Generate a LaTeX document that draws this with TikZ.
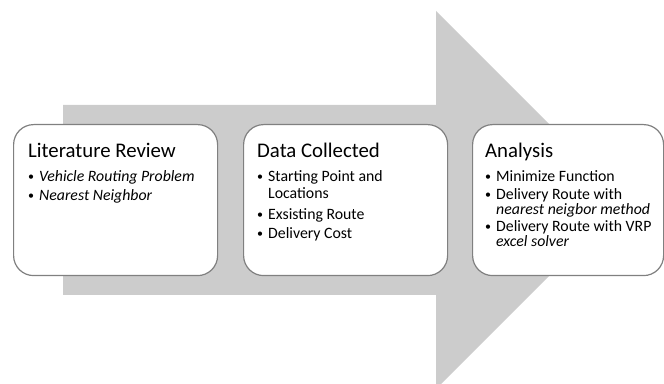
\documentclass[tikz,border=0pt]{standalone}
\usepackage{fontspec}
\setmainfont{Carlito}
\usetikzlibrary{positioning}

\newcommand{\bitem}[1]{\makebox[11pt][l]{\raisebox{1pt}{\fontsize{12}{12}\selectfont\textbullet}}#1}
\newcommand{\bcont}[1]{\hspace*{11pt}#1}
\newcommand{\stagetitle}[1]{{\fontsize{20.8}{23}\selectfont #1}}

\tikzset{
  stagebox/.style={draw=gray, line width=1.2pt, rounded corners=20pt, fill=white,
    minimum height=151pt, inner sep=0pt},
  stagetext/.style={align=left, anchor=north west, inner sep=0pt,
    font=\fontsize{15.8}{17.5}\selectfont}
}

\begin{document}
\begin{tikzpicture}[x=1pt,y=1pt,line join=miter]
  \useasboundingbox (0,0) rectangle (664,383);
  % big grey arrow behind the stages
  \fill[gray!40] (63,278) -- (436,278) -- (436,372) -- (625,183)
    -- (436,-6) -- (436,88) -- (63,88) -- cycle;
  % the three stages
  \node[stagebox, minimum width=204pt, anchor=north west] (lit) at (13,259) {};
  \node[stagebox, minimum width=204pt, anchor=north west] (data) at (243,259) {};
  \node[stagebox, minimum width=191pt, anchor=north west] (anl) at (472,259) {};
  \node[stagetext, below right=19pt and 15pt of lit.north west] (litText)
    {\stagetitle{Literature Review}\\[6pt]
     \bitem{\itshape Vehicle Routing Problem}\\[2pt]
     \bitem{\itshape Nearest Neighbor}};
  \node[stagetext, below right=19pt and 14pt of data.north west] (dataText)
    {\stagetitle{Data Collected}\\[6pt]
     \bitem{Starting Point and}\\
     \bcont{Locations}\\[3pt]
     \bitem{Exsisting Route}\\[2pt]
     \bitem{Delivery Cost}};
  \node[stagetext, below right=19pt and 13pt of anl.north west] (anlText)
    {\stagetitle{Analysis}\\[6pt]
     \bitem{Minimize Function}\\[1pt]
     \bitem{Delivery Route with}\\[-3pt]
     \bcont{\itshape nearest neigbor method}\\[0pt]
     \bitem{Delivery Route with VRP}\\[-3pt]
     \bcont{\itshape excel solver}};
\end{tikzpicture}
\end{document}
